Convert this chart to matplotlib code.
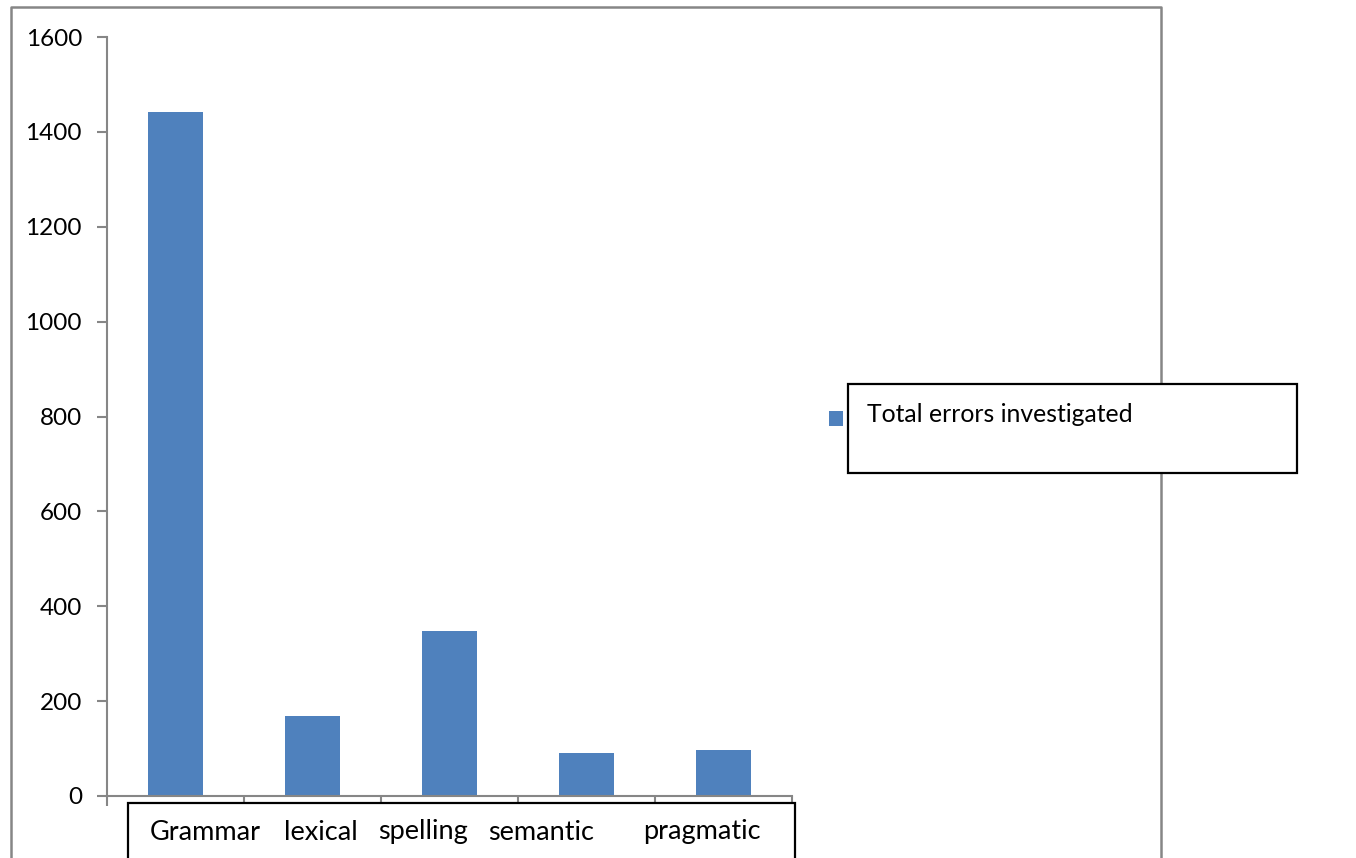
import matplotlib.pyplot as plt
from matplotlib.patches import Rectangle
from matplotlib.lines import Line2D

categories = ["Grammar", "lexical", "spelling", "semantic", "pragmatic"]
values = [1441, 169, 348, 91, 97]
series_name = "Total errors investigated"
yticks = [0, 200, 400, 600, 800, 1000, 1200, 1400, 1600]

W, H = 1356, 858
bar_color = "#4F81BD"
axis_gray = "#868686"

# left edge (pixels) of each category label inside the label box
label_left = [150, 284, 378, 488, 643]

plt.rcParams["font.family"] = ["Lato", "DejaVu Sans"]


def fx(x):
    return x / W


def fy(y):
    return 1 - y / H


fig = plt.figure(figsize=(W / 100, H / 100), dpi=100)
ax = fig.add_axes([fx(107), fy(796), fx(792) - fx(107), fy(37) - fy(796)])

x = list(range(len(categories)))
ax.bar(x, values, width=0.4, color=bar_color, zorder=2)

ax.set_xlim(-0.5, len(categories) - 0.5)
ax.set_ylim(0, 1600)
ax.set_yticks(yticks)
ax.set_yticklabels([str(v) for v in yticks], fontsize=17.5)
ax.set_xticks([i - 0.5 for i in range(len(categories) + 1)])
ax.set_xticklabels([])

for s in ["top", "right"]:
    ax.spines[s].set_visible(False)
for s in ["left", "bottom"]:
    ax.spines[s].set_color(axis_gray)
    ax.spines[s].set_linewidth(1.5)
ax.tick_params(axis="both", colors=axis_gray, width=1.5, length=7,
               direction="out", labelcolor="black")
ax.tick_params(axis="y", pad=11)

# outer chart frame (open at the bottom)
fig.add_artist(Line2D([fx(11), fx(11), fx(1161), fx(1161)],
                      [fy(858), fy(7), fy(7), fy(858)],
                      transform=fig.transFigure, color=axis_gray, lw=1.8))

# category label box
fig.add_artist(Rectangle((fx(128), fy(870)), fx(795) - fx(128), fy(803) - fy(870),
                         transform=fig.transFigure, fill=True, facecolor="white",
                         edgecolor="black", lw=1.6, zorder=5))
for name, left in zip(categories, label_left):
    fig.text(fx(left), fy(832), name, fontsize=19.5, ha="left", va="center", zorder=6)

# legend
fig.add_artist(Rectangle((fx(848), fy(473)), fx(1297) - fx(848), fy(384) - fy(473),
                         transform=fig.transFigure, facecolor="white",
                         edgecolor="black", lw=1.6, zorder=5))
fig.add_artist(Rectangle((fx(829), fy(426)), fx(843) - fx(829), fy(411) - fy(426),
                         transform=fig.transFigure, facecolor=bar_color,
                         edgecolor="none", zorder=5))
fig.text(fx(867), fy(414), series_name, fontsize=17.8, ha="left", va="center", zorder=6)

fig.savefig("out.png", dpi=100)
